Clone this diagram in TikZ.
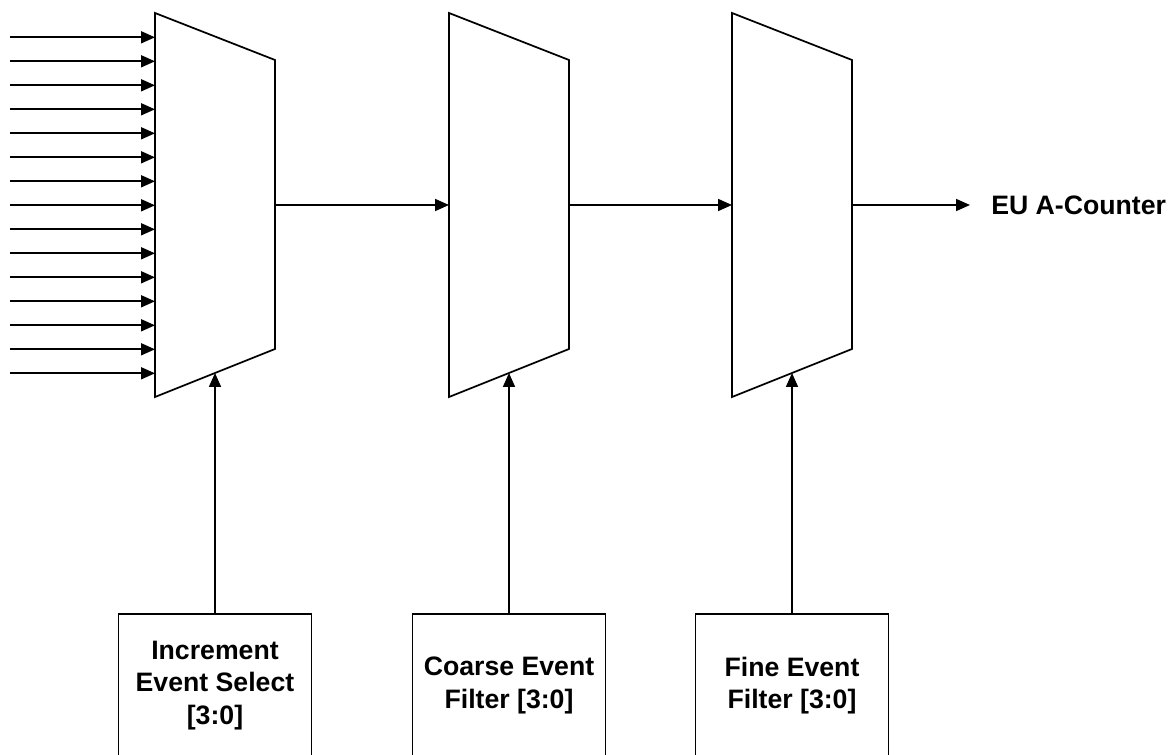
\documentclass[tikz,border=0pt]{standalone}
\usepackage{fontspec}
\setmainfont{Liberation Sans}
\usetikzlibrary{arrows.meta}

\begin{document}
\begin{tikzpicture}[
  x=0.75pt, y=-0.75pt,
  line join=miter,
  edge/.style={line width=1.3pt},
  sig/.style={line width=1.3pt, -{Triangle[length=10.5pt,width=9pt]}},
  ctrl/.style={draw, line width=1.3pt, minimum width=144.75pt, minimum height=107.25pt,
    inner sep=0pt, align=center, font=\bfseries\fontsize{20}{24.5}\selectfont},
  lbl/.style={font=\bfseries\fontsize{20}{24.5}\selectfont},
]
\useasboundingbox (0,0) rectangle (1168,755);
\clip (0,0) rectangle (1168,755);

% ── the three muxes ───────────────────────────────────────────────────────
\foreach \n/\l in {a/155, b/449, c/732} {
  \draw[edge] (\l,13) -- (\l+120,60) -- (\l+120,349) -- (\l,397) -- cycle;
  \coordinate (\n-in) at (\l,205);
  \coordinate (\n-out) at (\l+120,205);
  \coordinate (\n-sel) at (\l+60,373);
}

% ── the event lines into the first mux ───────────────────────────────────
\foreach \i in {0,...,14} {
  \coordinate (src\i) at (10,37.3+24*\i);
  \coordinate (a-in\i) at (155,37.3+24*\i);
  \draw[sig] (src\i) -- (a-in\i);
}

% ── the select registers, cut off at the bottom ──────────────────────────
\node[ctrl] (incsel) at (215,685.5) {Increment\\Event Select\\{[3:0]}};
\node[ctrl] (coarse) at (509,685.5) {Coarse Event\\Filter [3:0]};
\node[ctrl] (fine)   at (792,685.5) {Fine Event\\Filter [3:0]};

\draw[sig] (incsel) -- (a-sel);
\draw[sig] (coarse) -- (b-sel);
\draw[sig] (fine) -- (c-sel);

% ── the chain and its output ─────────────────────────────────────────────
\draw[sig] (a-out) -- (b-in);
\draw[sig] (b-out) -- (c-in);

\node[lbl, anchor=west, inner xsep=15.75pt, inner ysep=0pt] (cnt) at (970,205) {EU A-Counter};
\draw[sig] (c-out) -- (cnt);

\end{tikzpicture}
\end{document}
